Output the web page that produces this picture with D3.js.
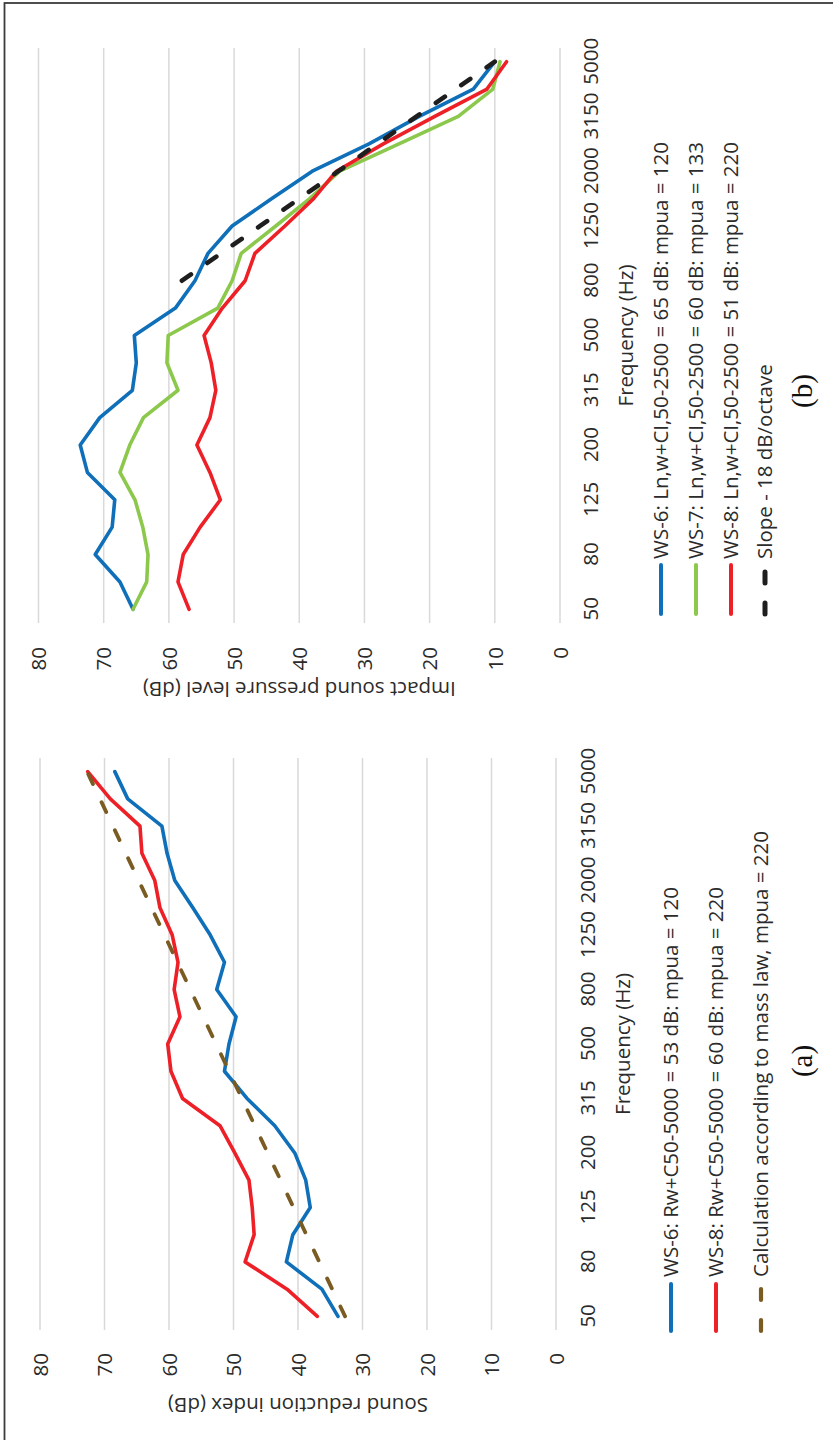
<!DOCTYPE html>
<html>
<head>
<meta charset="utf-8">
<script src="https://cdn.jsdelivr.net/npm/d3@7"></script>
<style>
  html, body { margin: 0; padding: 0; background: #fff; }
  svg { display: block; }
</style>
</head>
<body>
<svg id="chart" width="833" height="1440"></svg>
<script>
// One-third-octave bands and the subset that carries a label
const bands = ["50","63","80","100","125","160","200","250","315","400","500","630","800","1000","1250","1600","2000","2500","3150","4000","5000"];
const tickLabels = ["50","80","125","200","315","500","800","1250","2000","3150","5000"];
const valueTicks = [0, 10, 20, 30, 40, 50, 60, 70, 80];

// (a) Sound reduction index, dB
const ws6Airborne = [33.8, 36.3, 41.8, 40.8, 38.1, 38.8, 40.5, 43.6, 47.9, 51.4, 50.7, 49.6, 52.6, 51.4, 53.6, 56.3, 59.1, 60.3, 61.1, 66.4, 68.4];
const ws8Airborne = [37.0, 41.7, 48.2, 46.8, 47.1, 47.6, 49.8, 52.1, 57.9, 59.7, 60.2, 58.3, 59.2, 58.6, 59.5, 61.4, 62.2, 64.2, 64.5, 69.1, 72.6];
const massLaw     = [32.7, 34.7, 36.7, 38.7, 40.7, 42.7, 44.7, 46.7, 48.7, 50.7, 52.7, 54.7, 56.7, 58.7, 60.7, 62.7, 64.7, 66.7, 68.7, 70.7, 72.7];

// (b) Impact sound pressure level, dB
const ws6Impact = [65.5, 67.5, 71.3, 68.7, 68.3, 72.5, 73.6, 70.6, 65.6, 65.0, 65.3, 59.0, 56.0, 54.0, 50.3, 44.2, 38.0, 29.3, 21.6, 13.3, 10.0];
const ws7Impact = [65.5, 63.4, 63.2, 64.0, 65.2, 67.5, 66.0, 63.9, 58.6, 60.3, 60.1, 52.5, 50.3, 48.9, 43.6, 38.4, 33.8, 24.7, 15.6, 10.3, 9.2];
const ws8Impact = [56.9, 58.6, 57.8, 55.2, 52.1, 53.7, 55.7, 53.7, 52.8, 53.5, 54.6, 51.8, 48.3, 46.8, 42.2, 37.8, 34.3, 27.1, 19.2, 11.2, 8.2];
const slope18   = [null, null, null, null, null, null, null, null, null, null, null, null, 58, 52, 46, 40, 34, 28, 22, 16, 10];

const labelsA = [
  "WS-6: Rw+C50-5000 = 53 dB: mpua = 120",
  "WS-8: Rw+C50-5000 = 60 dB: mpua = 220",
  "Calculation according to mass law, mpua = 220"
];
const labelsB = [
  "WS-6: Ln,w+CI,50-2500 = 65 dB: mpua = 120",
  "WS-7: Ln,w+CI,50-2500 = 60 dB: mpua = 133",
  "WS-8: Ln,w+CI,50-2500 = 51 dB: mpua = 220",
  "Slope - 18 dB/octave"
];

const FONT = "'Open Sans', 'Noto Sans', sans-serif";
const FS = 20.5;
const TEXT = "#2b2b2b";
const BLUE = "#0f6fb9", RED = "#ee2027", GREEN = "#8cc84b", BROWN = "#7a5c22", BLACK = "#1e1e1e";

const svg = d3.select("#chart");
// The figure is laid out landscape (1440 x 833) and turned a quarter turn counter-clockwise onto the page
const fig = svg.append("g").attr("transform", "translate(0,1440) rotate(-90)");

// Frame (only the top and right edges fall inside the page)
fig.append("rect")
  .attr("x", -20).attr("y", 4.5).attr("width", 1457).attr("height", 900)
  .attr("fill", "none").attr("stroke", "#3c3c3c").attr("stroke-width", 1.8);

function drawPanel(p) {
  const g = fig.append("g");
  const x = d3.scalePoint().domain(bands).range([p.left, p.right]).padding(0.5);
  const y = d3.scaleLinear().domain([0, 80]).range([p.zeroY, p.topY]);

  // horizontal gridlines
  g.append("g").selectAll("line").data(valueTicks).join("line")
    .attr("x1", p.left).attr("x2", p.right)
    .attr("y1", d => y(d)).attr("y2", d => y(d))
    .attr("stroke", "#d9d9d9").attr("stroke-width", 1.5);

  // value axis
  const ya = g.append("g").attr("transform", `translate(${p.left},0)`)
    .call(d3.axisLeft(y).tickValues(valueTicks).tickSize(0).tickPadding(p.left - p.valRight));
  ya.select(".domain").remove();
  ya.attr("font-family", FONT).attr("font-size", FS);
  ya.selectAll("text").attr("fill", TEXT).attr("dy", "0.35em");

  // frequency axis
  const xa = g.append("g").attr("transform", `translate(0,${p.catY})`)
    .call(d3.axisBottom(x).tickValues(tickLabels).tickSize(0));
  xa.select(".domain").remove();
  xa.attr("font-family", FONT).attr("font-size", FS);
  xa.selectAll("text").attr("fill", TEXT).attr("y", 0).attr("dy", "0.35em");

  // axis titles
  g.append("text")
    .attr("transform", `translate(${(p.left + p.right) / 2},${p.freqTitleY})`)
    .attr("text-anchor", "middle").attr("dy", "0.35em")
    .attr("font-family", FONT).attr("font-size", FS).attr("fill", TEXT)
    .text("Frequency (Hz)");
  g.append("text")
    .attr("transform", `translate(${p.yTitleX},${(p.zeroY + p.topY) / 2}) rotate(-90)`)
    .attr("text-anchor", "middle")
    .attr("font-family", FONT).attr("font-size", FS).attr("fill", TEXT)
    .text(p.yTitle);

  // series
  const line = d3.line()
    .defined(d => d.v != null)
    .x(d => x(d.b)).y(d => y(d.v));
  p.series.forEach(s => {
    const pts = s.values.map((v, i) => ({ b: bands[i], v }));
    g.append("path")
      .datum(pts)
      .attr("d", line)
      .attr("fill", "none")
      .attr("stroke", s.color)
      .attr("stroke-width", s.width)
      .attr("stroke-linejoin", "round")
      .attr("stroke-linecap", s.dash ? "round" : "round")
      .attr("stroke-dasharray", s.dash || null);
  });

  // legend
  const lg = g.append("g");
  p.series.forEach((s, i) => {
    const ry = p.legendY[i];
    lg.append("line")
      .attr("x1", p.legendX0).attr("x2", p.legendX1)
      .attr("y1", ry).attr("y2", ry)
      .attr("stroke", s.color).attr("stroke-width", s.width + 0.4)
      .attr("stroke-linecap", "round")
      .attr("stroke-dasharray", s.dash || null);
    lg.append("text")
      .attr("x", p.legendTextX).attr("y", ry).attr("dy", "0.35em")
      .attr("font-family", FONT).attr("font-size", FS).attr("fill", TEXT)
      .text(s.label);
  });

  // panel tag
  g.append("text")
    .attr("x", p.tagX).attr("y", p.tagY)
    .attr("text-anchor", "middle")
    .attr("font-family", "'Liberation Serif', 'DejaVu Serif', serif")
    .attr("font-size", 29).attr("fill", "#111")
    .text(p.tag);
}

drawPanel({
  left: 110, right: 682, zeroY: 556, topY: 40, valRight: 87,
  catY: 588, freqTitleY: 623, yTitleX: 42.5,
  yTitle: "Sound reduction index (dB)",
  series: [
    { values: ws6Airborne, color: BLUE, width: 3.6, label: labelsA[0] },
    { values: ws8Airborne, color: RED, width: 3.6, label: labelsA[1] },
    { values: massLaw, color: BROWN, width: 3.8, dash: "11,20", label: labelsA[2] }
  ],
  legendX0: 109, legendX1: 156, legendTextX: 163,
  legendY: [671, 716, 761],
  tag: "(a)", tagX: 379, tagY: 812
});

drawPanel({
  left: 817, right: 1392, zeroY: 560, topY: 38.5, valRight: 793,
  catY: 591, freqTitleY: 626, yTitleX: 758.5,
  yTitle: "Impact sound pressure level (dB)",
  series: [
    { values: ws6Impact, color: BLUE, width: 3.6, label: labelsB[0] },
    { values: ws7Impact, color: GREEN, width: 3.6, label: labelsB[1] },
    { values: ws8Impact, color: RED, width: 3.6, label: labelsB[2] },
    { values: slope18, color: BLACK, width: 4.6, dash: "11,20", label: labelsB[3] }
  ],
  legendX0: 826, legendX1: 875, legendTextX: 881,
  legendY: [661, 696, 731, 765],
  tag: "(b)", tagX: 1049, tagY: 812
});
</script>
</body>
</html>
